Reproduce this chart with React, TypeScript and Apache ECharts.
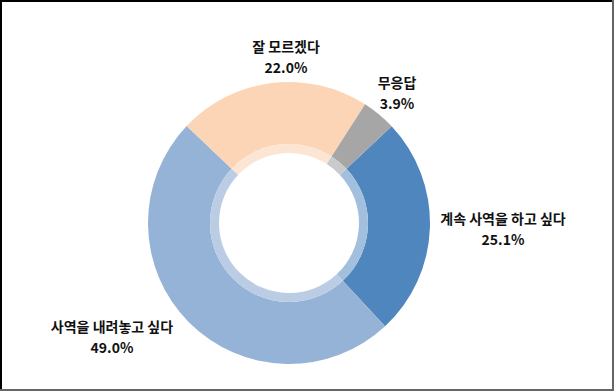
import React, { useEffect, useRef } from "react";
import * as echarts from "echarts";

const categories = ["계속 사역을 하고 싶다", "사역을 내려놓고 싶다", "잘 모르겠다", "무응답"];
const values = [25.1, 49.0, 22.0, 3.9];
const colors = ["#4F86BE", "#95B3D7", "#FBD5B5", "#A6A6A6"];
const innerColors = ["#A3BFDE", "#BACDE5", "#FCE5D3", "#CACACA"];
const labelPos = [
  [503, 228],
  [112, 336],
  [286, 56],
  [397, 92],
];

export default function App() {
  const ref = useRef<HTMLDivElement>(null);
  useEffect(() => {
    document.body.style.margin = "0";
    const chart = echarts.init(ref.current!, undefined, { renderer: "svg" });
    const font = '"Noto Sans CJK KR", "Noto Sans", sans-serif';
    chart.setOption({
      animation: false,
      backgroundColor: "#ffffff",
      graphic: [
        { type: "line", shape: { x1: 0, y1: 1, x2: 614, y2: 1 }, style: { stroke: "#000", lineWidth: 2 } },
        { type: "line", shape: { x1: 1, y1: 0, x2: 1, y2: 391 }, style: { stroke: "#000", lineWidth: 2 } },
        { type: "line", shape: { x1: 0, y1: 390, x2: 614, y2: 390 }, style: { stroke: "#666", lineWidth: 2 } },
        { type: "line", shape: { x1: 613, y1: 0, x2: 613, y2: 391 }, style: { stroke: "#666", lineWidth: 2 } },
      ],
      series: [
        {
          type: "pie",
          center: [289, 223],
          radius: [79, 141],
          startAngle: 43.3,
          clockwise: true,
          avoidLabelOverlap: false,
          data: categories.map((c, i) => ({ name: c, value: values[i], itemStyle: { color: colors[i] } })),
          label: {
            show: true,
            position: "outside",
            formatter: (p: any) => `${p.name}\n${p.value.toFixed(1)}%`,
            fontFamily: font,
            fontSize: 14,
            fontWeight: "bold",
            color: "#111",
            lineHeight: 21,
            align: "center",
          },
          labelLine: { show: false },
          labelLayout: (params: any) => ({
            x: labelPos[params.dataIndex][0],
            y: labelPos[params.dataIndex][1],
            align: "center",
            verticalAlign: "middle",
          }),
          emphasis: { disabled: true },
        },
        {
          type: "pie",
          center: [289, 223],
          radius: [70, 79],
          startAngle: 43.3,
          clockwise: true,
          silent: true,
          data: categories.map((c, i) => ({ name: c, value: values[i], itemStyle: { color: innerColors[i] } })),
          label: { show: false },
          labelLine: { show: false },
          emphasis: { disabled: true },
        },
      ],
    });
    return () => chart.dispose();
  }, []);
  return <div ref={ref} style={{ position: "absolute", left: 0, top: 0, width: 614, height: 391 }} />;
}
